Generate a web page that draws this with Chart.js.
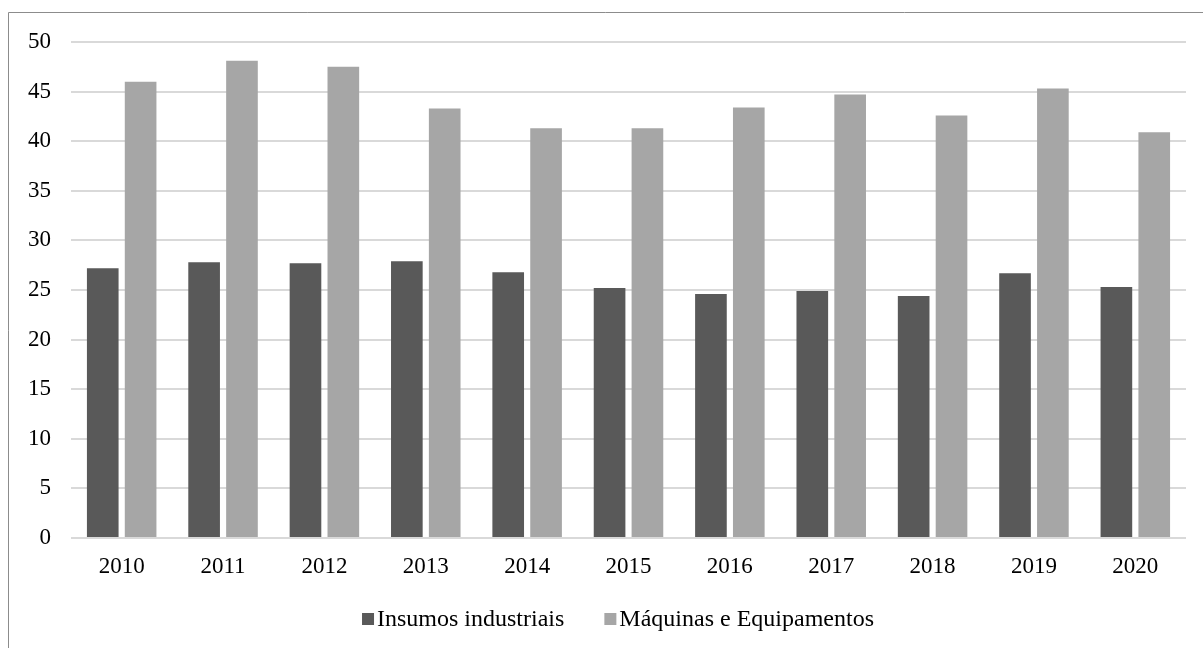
<!DOCTYPE html>
<html>
<head>
<meta charset="utf-8">
<script src="https://cdn.jsdelivr.net/npm/chart.js@4/dist/chart.umd.min.js"></script>
<style>
  html, body { margin: 0; padding: 0; background: #ffffff; }
  #wrap { position: relative; width: 1203px; height: 648px; }
</style>
</head>
<body>
<div id="wrap"><canvas id="c" width="1203" height="648"></canvas></div>
<script>
// Years on the x axis
const years = ['2010', '2011', '2012', '2013', '2014', '2015', '2016', '2017', '2018', '2019', '2020'];

// Series values
const insumosIndustriais = [27.2, 27.8, 27.7, 27.9, 26.8, 25.2, 24.6, 24.9, 24.4, 26.7, 25.3];
const maquinasEquipamentos = [46.0, 48.1, 47.5, 43.3, 41.3, 41.3, 43.4, 44.7, 42.6, 45.3, 40.9];

// Series names
const seriesNames = ['Insumos industriais', 'Máquinas e Equipamentos'];

// Y axis range and step
const yMin = 0;
const yMax = 50;
const yStep = 5;

const FONT = '"Liberation Serif", "Times New Roman", serif';

// Outer frame line (left and top edges of the chart box)
const framePlugin = {
  id: 'frame',
  beforeDraw(chart) {
    const ctx = chart.ctx;
    ctx.save();
    ctx.fillStyle = '#ffffff';
    ctx.fillRect(0, 0, chart.width, chart.height);
    ctx.strokeStyle = '#8c8c8c';
    ctx.lineWidth = 1;
    ctx.beginPath();
    ctx.moveTo(8.5, chart.height);
    ctx.lineTo(8.5, 12.5);
    ctx.lineTo(chart.width, 12.5);
    ctx.stroke();
    ctx.restore();
  }
};

// Legend drawn below the axis: square swatch followed by the series name
const legendPlugin = {
  id: 'bottomLegend',
  afterDraw(chart) {
    const ctx = chart.ctx;
    const box = 12, gap = 3, spacing = 40;
    const y = 619;
    ctx.save();
    ctx.font = '24px ' + FONT;
    ctx.textBaseline = 'middle';
    const items = chart.data.datasets.map(ds => ({
      text: ds.label, color: ds.backgroundColor, w: box + gap + ctx.measureText(ds.label).width
    }));
    const total = items.reduce((s, it) => s + it.w, 0) + spacing * (items.length - 1);
    let x = 618 - total / 2;
    items.forEach(it => {
      ctx.fillStyle = it.color;
      ctx.fillRect(x, y - box / 2, box, box);
      ctx.fillStyle = '#000000';
      ctx.fillText(it.text, x + box + gap, y + 1);
      x += it.w + spacing;
    });
    ctx.restore();
  }
};

new Chart(document.getElementById('c'), {
  type: 'bar',
  data: {
    labels: years,
    datasets: [
      {
        label: seriesNames[0],
        data: insumosIndustriais,
        backgroundColor: '#595959',
        borderColor: '#595959',
        borderWidth: 0,
        categoryPercentage: 0.747,
        barPercentage: 0.836
      },
      {
        label: seriesNames[1],
        data: maquinasEquipamentos,
        backgroundColor: '#a6a6a6',
        borderColor: '#a6a6a6',
        borderWidth: 0,
        categoryPercentage: 0.747,
        barPercentage: 0.836
      }
    ]
  },
  options: {
    responsive: false,
    animation: false,
    devicePixelRatio: 1,
    layout: { padding: { top: 42, right: 17, bottom: 60, left: 0 } },
    plugins: {
      legend: { display: false },
      tooltip: { enabled: false }
    },
    scales: {
      x: {
        grid: { display: false, drawTicks: false },
        border: { display: false },
        ticks: { color: '#000000', font: { family: FONT, size: 23 }, padding: 15, maxRotation: 0 },
        afterFit(scale) { scale.height = 50; }
      },
      y: {
        min: yMin,
        max: yMax,
        grid: { color: '#d9d9d9', lineWidth: 2, drawTicks: false },
        border: { display: false },
        ticks: { stepSize: yStep, color: '#000000', font: { family: FONT, size: 23 }, padding: 20 },
        afterFit(scale) { scale.width = 71; }
      }
    }
  },
  plugins: [framePlugin, legendPlugin]
});
</script>
</body>
</html>
